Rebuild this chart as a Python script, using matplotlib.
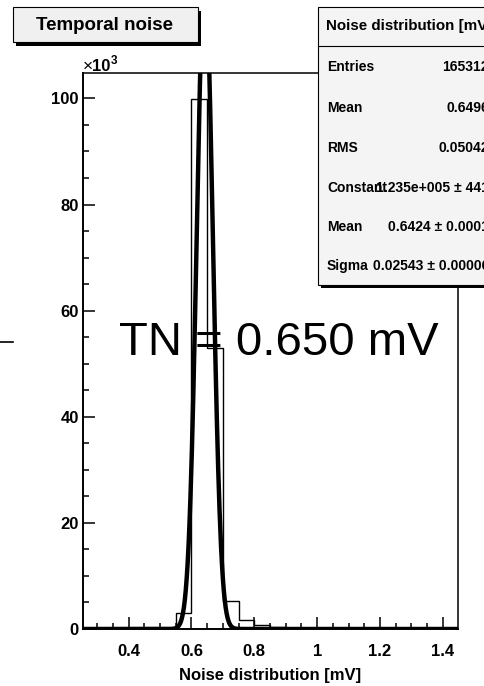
import numpy as np
import matplotlib.pyplot as plt
from matplotlib.patches import Rectangle
from matplotlib.lines import Line2D
from matplotlib.ticker import MultipleLocator

plt.rcParams['font.family'] = ['Liberation Sans', 'DejaVu Sans']

# histogram of the temporal noise, 0.05 mV bins, counts in thousands
bin_edges = [0.25, 0.30, 0.35, 0.40, 0.45, 0.50, 0.55, 0.60, 0.65, 0.70, 0.75, 0.80, 0.85,
             0.90, 0.95, 1.00, 1.05, 1.10, 1.15, 1.20, 1.25, 1.30, 1.35, 1.40, 1.45]
counts_k = [0, 0, 0, 0, 0, 0.02, 3.1, 99.8, 53.0, 5.3, 1.7, 0.75, 0.35,
            0.15, 0.08, 0.05, 0.03, 0.02, 0.01, 0.01, 0.01, 0.01, 0.0, 0.0]

# gaussian fit results
fit_const = 1.235e5
fit_mean = 0.6424
fit_sigma = 0.02543

stat_labels = ['Entries', 'Mean', 'RMS', 'Constant', 'Mean', 'Sigma']
stat_values = ['165312', '0.6496', '0.05042', '1.235e+005 ± 441', '0.6424 ± 0.0001', '0.02543 ± 0.00006']

W, H = 485, 686
fig = plt.figure(figsize=(W / 100, H / 100), dpi=100)
fig.patch.set_facecolor('white')


def fx(px):
    return px / W


def fy(py):
    return 1 - py / H


ax = fig.add_axes([fx(83), fy(629), fx(458) - fx(83), fy(73) - fy(629)])

ax.stairs(counts_k, bin_edges, color='black', lw=1.0, baseline=0)

x = np.linspace(0.255, 1.448, 800)
g = fit_const * np.exp(-0.5 * ((x - fit_mean) / fit_sigma) ** 2) / 1000
ax.plot(x, g, color='black', lw=3.2, solid_capstyle='butt')

ax.set_xlim(0.255, 1.448)
ax.set_ylim(0, max(counts_k) * 1.05)

ax.xaxis.set_major_locator(MultipleLocator(0.2))
ax.xaxis.set_minor_locator(MultipleLocator(0.05))
ax.yaxis.set_major_locator(MultipleLocator(20))
ax.yaxis.set_minor_locator(MultipleLocator(5))
ax.set_xticks([0.4, 0.6, 0.8, 1.0, 1.2, 1.4])
ax.set_xticklabels(['0.4', '0.6', '0.8', '1', '1.2', '1.4'])
ax.set_yticks([0, 20, 40, 60, 80, 100])

ax.tick_params(which='both', direction='in', top=False, right=False, width=1.1)
ax.tick_params(which='major', length=8.5)
ax.tick_params(which='minor', length=4)
ax.tick_params(axis='x', which='major', pad=11, labelsize=12)
ax.tick_params(axis='y', which='major', pad=3, labelsize=12)
for lab in ax.get_xticklabels() + ax.get_yticklabels():
    lab.set_fontweight('bold')
for side in ['left', 'bottom']:
    ax.spines[side].set_linewidth(1.4)
for side in ['top', 'right']:
    ax.spines[side].set_linewidth(1.1)

ax.set_xlabel('Noise distribution [mV]', fontsize=12, fontweight='bold', labelpad=6)

# exponent label of the y axis
fig.text(fx(83), fy(71), '×', fontsize=12.5, ha='left', va='baseline')
fig.text(fx(92), fy(71), '10', fontsize=12, fontweight='bold', ha='left', va='baseline')
fig.text(fx(111), fy(64), '3', fontsize=8.5, fontweight='bold', ha='left', va='baseline')

# noise value
fig.text(fx(119), fy(355), 'TN = 0.650 mV', fontsize=34, ha='left', va='baseline')

# stray line on the left edge
fig.add_artist(Line2D([fx(0), fx(13)], [fy(342), fy(342)], color='black', lw=1.2))

# title box with shadow
fig.add_artist(Rectangle((fx(16), fy(46)), fx(185), fy(7) - fy(42),
                         facecolor='black', edgecolor='none'))
fig.add_artist(Rectangle((fx(13), fy(42)), fx(185), fy(7) - fy(42),
                         facecolor='#f0f0f0', edgecolor='black', lw=0.8))
fig.text(fx(105), fy(25), 'Temporal noise', fontsize=13.5, fontweight='bold',
         ha='center', va='center')

# statistics box with shadow
fig.add_artist(Rectangle((fx(321), fy(288)), fx(300), fy(7) - fy(285),
                         facecolor='black', edgecolor='none'))
fig.add_artist(Rectangle((fx(318), fy(285)), fx(300), fy(7) - fy(285),
                         facecolor='#f4f4f4', edgecolor='black', lw=0.8))
fig.add_artist(Line2D([fx(318), fx(620)], [fy(46), fy(46)], color='black', lw=0.8))
fig.text(fx(326), fy(26), 'Noise distribution [mV]', fontsize=10.9, fontweight='bold',
         ha='left', va='center')

row_y = [67, 108, 148, 188, 227, 266]
for lab, val, ry in zip(stat_labels, stat_values, row_y):
    fig.text(fx(327), fy(ry), lab, fontsize=10, fontweight='bold', ha='left', va='center')
    fig.text(fx(489), fy(ry), val, fontsize=10, fontweight='bold', ha='right', va='center')

fig.savefig('out.png', dpi=100)
